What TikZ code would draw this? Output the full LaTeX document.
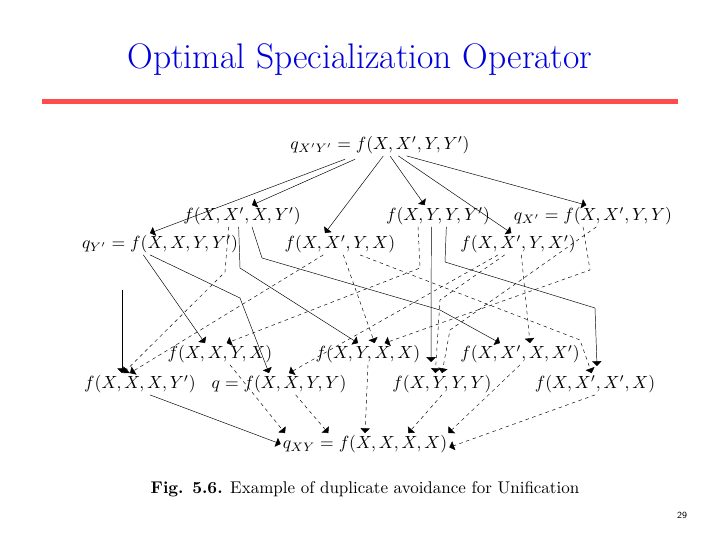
\documentclass[tikz,border=0pt]{standalone}
\usepackage{tikz}
\usetikzlibrary{positioning,arrows}
\begin{document}
\begin{tikzpicture}[x=0.03cm,y=-0.03cm,
  term/.style={inner sep=1pt,scale=1.5},
  solidarr/.style={-triangle 90,thin},
  dasharr/.style={-triangle 90,thin,dashed}]
  \useasboundingbox (0,0) rectangle (720,540);

  % Title
  \node [font=\Huge,scale=1.22,text=blue!85!black] (title) at (360,60) {Optimal Specialization Operator};
  \fill [red!70] (42,99) rectangle (678,104);

  % Terms
  \node [term] (top) at (380,145) {$q_{X'Y'}=f(X,X',Y,Y')$};
  \node [term] (a) at (242,216) {$f(X,X',X,Y')$};
  \node [term] (b) at (438,216) {$f(X,Y,Y,Y')$};
  \node [term] (c) at (593,216) {$q_{X'}=f(X,X',Y,Y)$};
  \node [term] (d) at (160,244) {$q_{Y'}=f(X,X,Y,Y')$};
  \node [term] (e) at (340,244) {$f(X,X',Y,X)$};
  \node [term] (f) at (518,244) {$f(X,X',Y,X')$};
  \node [term] (g) at (220,354) {$f(X,X,Y,X)$};
  \node [term] (h) at (368,354) {$f(X,Y,X,X)$};
  \node [term] (i) at (520,354) {$f(X,X',X,X')$};
  \node [term] (j) at (140,384) {$f(X,X,X,Y')$};
  \node [term] (k) at (279,384) {$q=f(X,X,Y,Y)$};
  \node [term] (l) at (442,384) {$f(X,Y,Y,Y)$};
  \node [term] (m) at (595,384) {$f(X,X',X',X)$};
  \node [term] (bot) at (365,444) {$q_{XY}=f(X,X,X,X)$};

  % From the top
  \draw [solidarr] ([xshift=-1.05cm,yshift=-0.1cm]top.south) -- ([xshift=-0.3cm]d.north);
  \draw [solidarr] ([xshift=-0.75cm,yshift=-0.1cm]top.south) -- ([xshift=0.3cm]a.north);
  \draw [solidarr] ([xshift=0.1cm]top.south) -- ([xshift=-0.45cm]e.north);
  \draw [solidarr] ([xshift=0.3cm]top.south) -- ([xshift=-0.4cm]b.north);
  \draw [solidarr] ([xshift=0.55cm]top.south) -- ([xshift=-0.2cm]f.north);
  \draw [solidarr] ([xshift=0.8cm]top.south) -- ([xshift=-0.2cm]c.north);

  % Solid middle edges
  \coordinate (jin) at (122,290);
  \draw [solidarr] (jin) -- (jin |- j.north);
  \draw [solidarr] ([xshift=-0.5cm]d.south) -- ([xshift=-0.45cm]g.north);
  \draw [solidarr] ([xshift=-0.3cm]d.south) -- (240,298) -- ([xshift=-0.3cm]k.north);
  \draw [solidarr] ([xshift=-0.1cm]a.south) -- (240,268) -- ([xshift=-0.3cm]h.north);
  \draw [solidarr] ([xshift=0.3cm]a.south) -- (262,258) -- (440,310) -- ([xshift=-0.6cm]i.north);
  \draw [solidarr] ([xshift=-0.2cm]b.south) -- (431,362);
  \draw [solidarr] ([xshift=0.25cm]b.south) -- (445,262) -- (595,308) -- (597,366);

  % Dashed middle edges
  \draw [dasharr] ([xshift=-0.4cm]a.south) -- (225,272) -- ([xshift=-0.5cm]j.north);
  \draw [dasharr] ([xshift=-0.5cm]e.south) -- ([xshift=-0.3cm]j.north);
  \draw [dasharr] ([xshift=-0.6cm]b.south) -- (420,268) -- ([xshift=0.2cm]g.north);
  \draw [dasharr] ([xshift=-0.6cm]f.south) -- ([xshift=0.3cm]k.north);
  \draw [dasharr] ([xshift=0.1cm]e.south) -- ([xshift=0.2cm]h.north);
  \draw [dasharr] ([xshift=-0.3cm]c.south) -- (590,270) -- ([xshift=0.5cm]h.north);
  \draw [dasharr] ([xshift=-0.4cm]f.south) -- (440,300) -- ([xshift=-0.2cm]l.north);
  \draw [dasharr] ([xshift=0.1cm]c.south) -- (450,330) -- (l.north);
  \draw [dasharr] ([xshift=0.1cm]f.south) -- ([xshift=0.3cm]i.north);
  \draw [dasharr] ([xshift=0.6cm]e.south) -- (580,340) -- ([xshift=-0.1cm]m.north);

  % Into the bottom
  \draw [solidarr] ([xshift=0.3cm]j.south) -- (bot.west);
  \draw [dasharr] ([xshift=0.3cm]g.south) -- ([xshift=-2.4cm]bot.north);
  \draw [dasharr] ([xshift=0.5cm]k.south) -- ([xshift=-1.1cm]bot.north);
  \draw [dasharr] (h.south) -- ([xshift=0cm]bot.north);
  \draw [dasharr] (l.south) -- ([xshift=1.3cm]bot.north);
  \draw [dasharr] (i.south) -- ([xshift=2.5cm]bot.north);
  \draw [dasharr] (m.south) -- ([yshift=-0.1cm]bot.east);

  % Caption
  \node [scale=1.45] (caption) at (365,489) {\textbf{Fig. 5.6.} Example of duplicate avoidance for Unification};
  \node [font=\footnotesize\sffamily] (page) at (682,515) {29};
\end{tikzpicture}
\end{document}
